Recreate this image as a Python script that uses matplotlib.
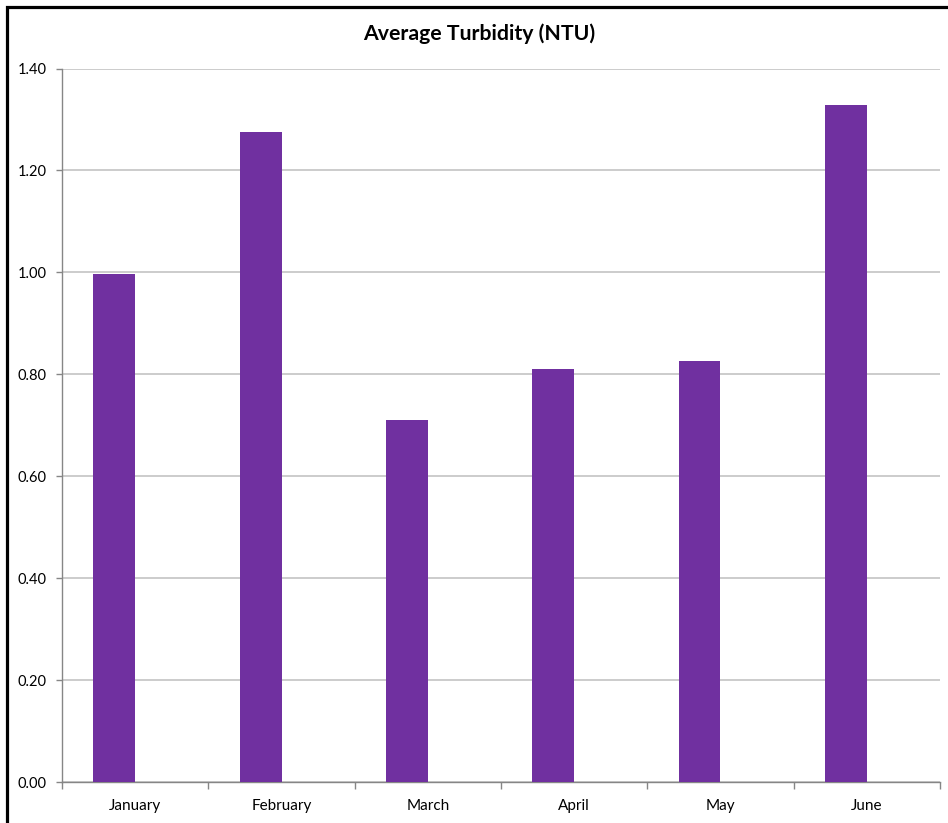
import matplotlib
matplotlib.use("Agg")
import matplotlib.pyplot as plt
from matplotlib.lines import Line2D
import numpy as np

months = ["January", "February", "March", "April", "May", "June"]
turbidity = [0.997, 1.275, 0.711, 0.810, 0.826, 1.328]
y_ticks = [0.0, 0.2, 0.4, 0.6, 0.8, 1.0, 1.2, 1.4]

W, H, DPI = 948, 823, 100
fig = plt.figure(figsize=(W / DPI, H / DPI), dpi=DPI)
fig.patch.set_facecolor("white")

font = "Lato"
ax = fig.add_axes([62 / W, (H - 782) / H, (940 - 62) / W, (782 - 68.5) / H])

x = np.arange(len(months))
bar_w = 0.285
ax.bar(x - bar_w / 2, turbidity, width=bar_w, color="#7030A0", zorder=3)

ax.set_xlim(-0.5, len(months) - 0.5)
ax.set_ylim(0, 1.4)
ax.set_yticks(y_ticks)
ax.set_yticklabels([f"{v:.2f}" for v in y_ticks], fontsize=10.5, family=font)
ax.set_xticks(x)
ax.set_xticklabels(months, fontsize=11, family=font)
ax.tick_params(axis="x", length=0, pad=12)
ax.set_xticks(np.arange(-0.5, len(months)), minor=True)
ax.tick_params(axis="x", which="minor", length=5, color="#868686", width=1)
ax.tick_params(axis="y", length=4, color="#868686", width=1, pad=7)

ax.grid(axis="y", color="#BFBFBF", linewidth=1.1, zorder=0)
for side in ("top", "right"):
    ax.spines[side].set_visible(False)
for side in ("left", "bottom"):
    ax.spines[side].set_color("#868686")
    ax.spines[side].set_linewidth(1)

fig.text(479 / W, 1 - 34 / H, "Average Turbidity (NTU)", ha="center", va="center",
         fontsize=15.3, fontweight="bold", family=font)

# outer frame of the chart area (top and left edges)
fx, fy = 6.5 / W, 1 - 7 / H
fig.add_artist(Line2D([fx, fx, 1.0], [0.0, fy, fy], transform=fig.transFigure,
                      color="black", linewidth=2.3, solid_joinstyle="miter"))

fig.savefig("out.png", dpi=DPI)
